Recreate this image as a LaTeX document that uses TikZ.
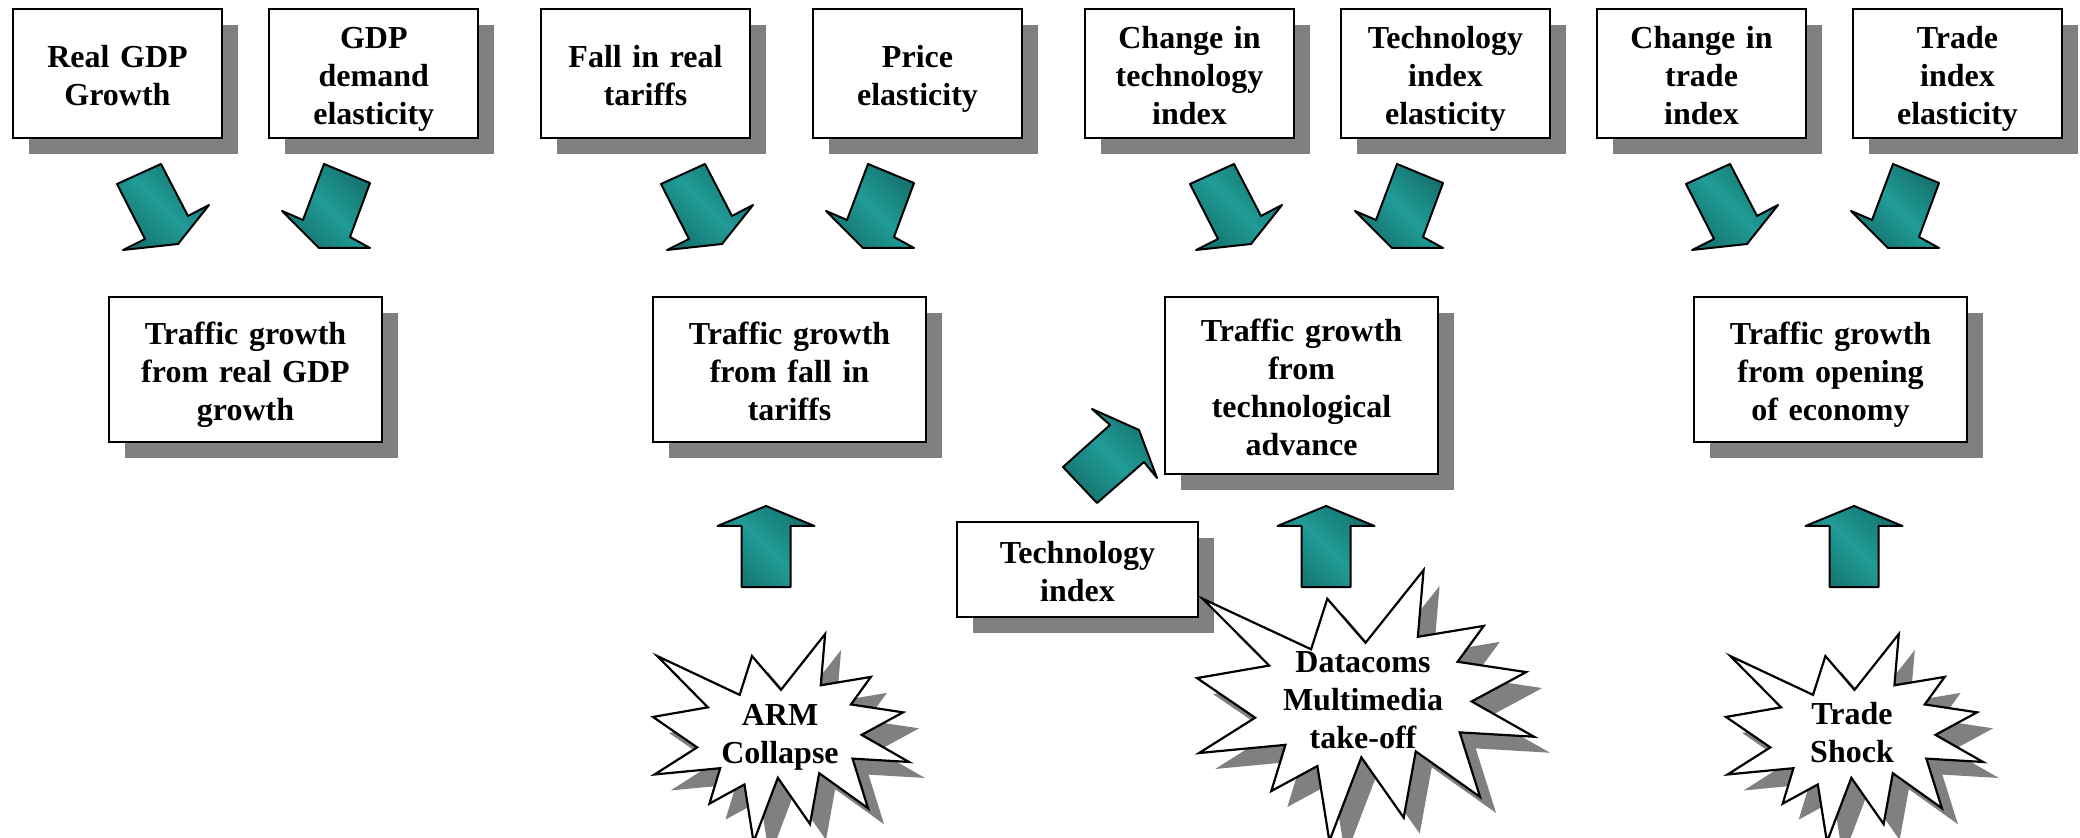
\documentclass[tikz,border=0pt]{standalone}
\usepackage{fontspec}
\setmainfont{Liberation Serif}
\usetikzlibrary{shadows}

\definecolor{tealmid}{RGB}{32,156,150}
\definecolor{tealdark}{RGB}{22,116,112}
\definecolor{sombra}{RGB}{128,128,128}

% puntales: alto de la primera linea, profundidad de la ultima
\newcommand{\puntalsup}{\rule{0pt}{17pt}}
\newcommand{\puntalinf}{\rule[-4pt]{0pt}{4pt}}

% contorno del estallido (coordenadas 0..1)
\newcommand{\sealshape}[1]{%
  \path[#1] (0.5000,0.2685) -- (0.6723,0) -- (0.6553,0.2465) -- (0.8509,0.2063)
    -- (0.7732,0.3387) -- (0.9767,0.3767) -- (0.8151,0.4850) -- (1,0.6153)
    -- (0.7795,0.5992) -- (0.8400,0.8377) -- (0.6491,0.6693) -- (0.6133,0.9138)
    -- (0.4876,0.6914) -- (0.3928,1) -- (0.3572,0.7235) -- (0.2205,0.8156)
    -- (0.2624,0.6452) -- (0.0063,0.6753) -- (0.1723,0.5451) -- (0,0.3988)
    -- (0.2142,0.3526) -- (0.0171,0.1063) -- (0.3385,0.2926) -- (0.3867,0.1063)
    -- cycle;}
\newcommand{\estallido}[4]{%
  \begin{scope}[shift={(#1+16,#2+16)}, xscale=#3, yscale=#4]
    \sealshape{fill=sombra}
  \end{scope}
  \begin{scope}[shift={(#1,#2)}, xscale=#3, yscale=#4]
    \sealshape{draw=black, fill=white, line width=1.1pt}
  \end{scope}}

\begin{document}
\begin{tikzpicture}[x=0.5pt, y=-0.5pt,
    font=\bfseries\fontsize{16}{19}\selectfont,
    texto/.style={align=center, inner sep=0pt, text width=100pt,
      execute at begin node=\puntalsup, execute at end node=\puntalinf},
    caja/.style={texto, draw=black, line width=1.1pt, fill=white,
      drop shadow={shadow xshift=8pt, shadow yshift=-8pt, fill=sombra, opacity=1}},
    cajasup/.style={caja, text width=104.5pt, minimum height=64.5pt},
    cajamed/.style={caja, text width=136.5pt, minimum height=72.5pt},
    flecha/.style={draw=black, line width=1pt, line join=round,
      left color=tealdark, right color=tealdark, middle color=tealmid, shading angle=135}]
  \useasboundingbox (0,0) rectangle (2080,838);
  \clip (0,0) rectangle (2080,838);

  % --- fila superior: factores ---
  \node[cajasup] (realgdp)    at (117.5,73.5)  {Real GDP\\Growth};
  \node[cajasup] (gdpelast)   at (373.8,73.5)  {GDP\\demand\\elasticity};
  \node[cajasup] (falltariff) at (645.5,73.5)  {Fall in real\\tariffs};
  \node[cajasup] (priceelast) at (917.5,73.5)  {Price\\elasticity};
  \node[cajasup] (chtech)     at (1189.5,73.5) {Change in\\technology\\index};
  \node[cajasup] (techelast)  at (1445.5,73.5) {Technology\\index\\elasticity};
  \node[cajasup] (chtrade)    at (1701.5,73.5) {Change in\\trade\\index};
  \node[cajasup] (tradeelast) at (1957.5,73.5) {Trade\\index\\elasticity};

  % --- flechas diagonales hacia abajo ---
  \foreach \dx in {0,544,1073,1569} {
    \path[flecha, shift={(\dx,0)}] (117,184) -- (161,164) -- (188,216) -- (209,205)
      -- (178,244) -- (123,250) -- (145,239) -- cycle;
    \path[flecha, shift={(\dx,0)}] (324,164) -- (370,183) -- (350,237) -- (370,248)
      -- (319,248) -- (282,211) -- (303,220) -- cycle;
  }

  % --- fila central: crecimiento del trafico ---
  \node[cajamed] (trafgdp)    at (245.5,369.5)  {Traffic growth\\from real GDP\\growth};
  \node[cajamed] (traftariff) at (789.5,369.5)  {Traffic growth\\from fall in\\tariffs};
  \node[cajamed, minimum height=88.5pt] (traftech) at (1301.5,385.5)
    {Traffic growth\\from\\technological\\advance};
  \node[cajamed] (trafopen)   at (1830.5,369.5) {Traffic growth\\from opening\\of economy};

  \node[caja, text width=120.5pt, minimum height=47.5pt] (techindex) at (1077.5,569.5)
    {Technology\\index};

  % --- flechas hacia arriba ---
  \foreach \cx in {766,1326,1854}
    \path[flecha] (\cx,506) -- (\cx+48.5,526) -- (\cx+24.5,526) -- (\cx+24.5,587)
      -- (\cx-24.5,587) -- (\cx-24.5,526) -- (\cx-48.5,526) -- cycle;
  \path[flecha] (1092,409) -- (1139,430) -- (1157,478) -- (1144,462) -- (1097,503)
    -- (1063,467) -- (1110,425) -- cycle;

  % --- choques ---
  \estallido{653}{634}{256}{208}
  \estallido{1197}{570}{337}{271}
  \estallido{1726}{634}{257}{208}
  \node[texto] (arm)        at (780,731)  {ARM\\Collapse};
  \node[texto] (datacoms)   at (1363,697) {Datacoms\\Multimedia\\take-off};
  \node[texto] (tradeshock) at (1852,730) {Trade\\Shock};
\end{tikzpicture}
\end{document}
